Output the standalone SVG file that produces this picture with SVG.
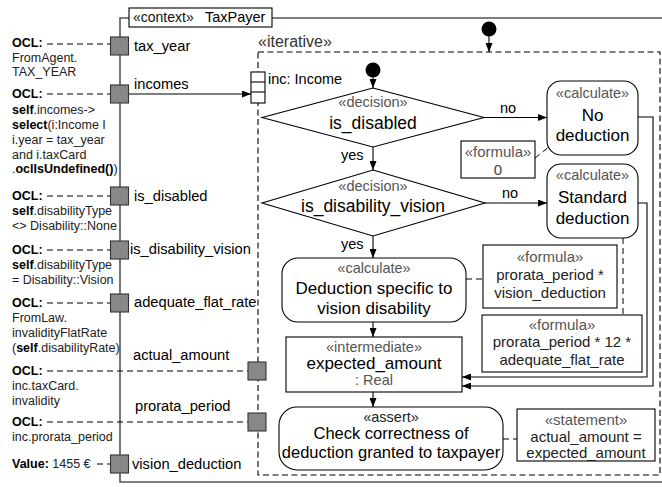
<svg xmlns="http://www.w3.org/2000/svg" width="662" height="487" viewBox="0 0 662 487">
<style>
text{font-family:"Liberation Sans",Arial,Helvetica,sans-serif}
.frame{fill:none;stroke:#555;stroke-width:1.6}
.box{fill:#fff;stroke:#000;stroke-width:1.1}
.port{fill:#888;stroke:#333;stroke-width:1.1}
.line{fill:none;stroke:#000;stroke-width:1.1}
.dash{fill:none;stroke:#000;stroke-width:1;stroke-dasharray:6,4}
.st{font-size:14.5px;fill:#555;text-anchor:middle}
.mt{font-size:17px;fill:#000;text-anchor:middle}
.dt{font-size:17.5px;fill:#000;text-anchor:middle}
.ft{font-size:15px;fill:#222;text-anchor:middle}
.pl{font-size:14.7px;fill:#000}
.ocl{font-size:12.5px;fill:#222}
.b{font-weight:bold;fill:#000}
.lbl{font-size:14.5px;fill:#000}
</style>
<defs>
<marker id="arr" markerUnits="userSpaceOnUse" markerWidth="9" markerHeight="7" refX="9" refY="3.5" orient="auto">
<path d="M0,0 L9,3.5 L0,7 z" fill="#000"/>
</marker>
</defs>

<g id="frame">
<path class="frame" d="M129,18 H120 V482 H662 M272,18 H662"/>
</g>
<g id="context">
<rect class="box" x="129" y="8" width="143" height="19"/>
<text x="133" y="22" style="font-size:14px;fill:#111">«context»</text>
<text x="205" y="22" style="font-size:14.5px;fill:#000">TaxPayer</text>
</g>

<g id="iterative">
<rect x="258" y="52" width="402" height="423" fill="none" stroke="#000" stroke-width="1.1" stroke-dasharray="6,3.5"/>
<text x="258" y="47" style="font-size:16px;fill:#333">«iterative»</text>
</g>

<g id="ocl-notes">
<text class="ocl" x="12" y="47"><tspan class="b">OCL:</tspan></text>
<text class="ocl" x="12" y="62">FromAgent.</text>
<text class="ocl" x="12" y="76">TAX_YEAR</text>

<text class="ocl" x="12" y="98"><tspan class="b">OCL:</tspan></text>
<text class="ocl" x="12" y="114"><tspan class="b">self</tspan>.incomes-&gt;</text>
<text class="ocl" x="12" y="129"><tspan class="b">select</tspan>(i:Income I</text>
<text class="ocl" x="12" y="144">i.year = tax_year</text>
<text class="ocl" x="12" y="159">and i.taxCard</text>
<text class="ocl" x="12" y="173">.<tspan class="b">oclIsUndefined()</tspan>)</text>

<text class="ocl" x="12" y="200"><tspan class="b">OCL:</tspan></text>
<text class="ocl" x="12" y="215"><tspan class="b">self</tspan>.disabilityType</text>
<text class="ocl" x="12" y="230">&lt;&gt; Disability::None</text>

<text class="ocl" x="12" y="254"><tspan class="b">OCL:</tspan></text>
<text class="ocl" x="12" y="269"><tspan class="b">self</tspan>.disabilityType</text>
<text class="ocl" x="12" y="284">= Disability::Vision</text>

<text class="ocl" x="12" y="307"><tspan class="b">OCL:</tspan></text>
<text class="ocl" x="12" y="322">FromLaw.</text>
<text class="ocl" x="12" y="337">invalidityFlatRate</text>
<text class="ocl" x="12" y="352">(<tspan class="b">self</tspan>.disabilityRate)</text>

<text class="ocl" x="12" y="375"><tspan class="b">OCL:</tspan></text>
<text class="ocl" x="12" y="390">inc.taxCard.</text>
<text class="ocl" x="12" y="405">invalidity</text>

<text class="ocl" x="12" y="426"><tspan class="b">OCL:</tspan></text>
<text class="ocl" x="12" y="441">inc.prorata_period</text>

<text class="ocl" x="12" y="468"><tspan class="b">Value:</tspan> 1455 €</text>
</g>

<g id="connectors">
<line class="dash" x1="47" y1="44" x2="110" y2="44"/>
<line class="dash" x1="47" y1="94" x2="110" y2="94"/>
<line class="dash" x1="47" y1="196" x2="110" y2="196"/>
<line class="dash" x1="47" y1="250" x2="110" y2="250"/>
<line class="dash" x1="47" y1="303" x2="110" y2="303"/>
<line class="dash" x1="47" y1="371" x2="248" y2="371"/>
<line class="dash" x1="47" y1="422" x2="248" y2="422"/>
<line class="dash" x1="97" y1="464" x2="110" y2="464" stroke-dasharray="5,3"/>

<line class="line" x1="129" y1="94" x2="251" y2="94" marker-end="url(#arr)"/>
<line class="line" x1="489" y1="36" x2="489" y2="52" marker-end="url(#arr)"/>
<line class="line" x1="373" y1="77" x2="373" y2="88" marker-end="url(#arr)"/>
<line class="line" x1="373" y1="147" x2="373" y2="170" marker-end="url(#arr)"/>
<line class="line" x1="373" y1="236" x2="373" y2="258" marker-end="url(#arr)"/>
<line class="line" x1="373" y1="322" x2="373" y2="337" marker-end="url(#arr)"/>
<line class="line" x1="373" y1="392" x2="373" y2="407" marker-end="url(#arr)"/>
<line class="line" x1="484" y1="117.5" x2="547" y2="117.5" marker-end="url(#arr)"/>
<line class="line" x1="485" y1="203" x2="547" y2="203" marker-end="url(#arr)"/>
<polyline class="line" points="638,117 653,117 653,386 462,386" marker-end="url(#arr)"/>
<polyline class="line" points="638,203 647,203 647,377 462,377" marker-end="url(#arr)"/>

<line class="dash" x1="535" y1="158" x2="550" y2="146" stroke-dasharray="5,3"/>
<line class="dash" x1="623" y1="238" x2="623" y2="315" stroke-dasharray="6,3.5"/>
<line class="dash" x1="466" y1="279" x2="483" y2="279" stroke-dasharray="5,3"/>
<line class="dash" x1="503" y1="439" x2="517" y2="439" stroke-dasharray="5,3"/>

<text class="lbl" x="341" y="160">yes</text>
<text class="lbl" x="341" y="249">yes</text>
<text class="lbl" x="500" y="113">no</text>
<text class="lbl" x="502" y="198">no</text>
</g>

<g id="port-tax_year">
<rect class="port" x="110.5" y="37" width="18" height="18"/>
<text class="pl" x="134" y="51">tax_year</text>
</g>
<g id="port-incomes">
<rect class="port" x="110.5" y="85" width="18" height="18"/>
<text class="pl" x="134" y="89">incomes</text>
</g>
<g id="port-is_disabled">
<rect class="port" x="110.5" y="187" width="18" height="18"/>
<text class="pl" x="134" y="201">is_disabled</text>
</g>
<g id="port-is_disability_vision">
<rect class="port" x="110.5" y="241" width="18" height="18"/>
<text class="pl" x="130" y="254">is_disability_vision</text>
</g>
<g id="port-adequate_flat_rate">
<rect class="port" x="110.5" y="294" width="18" height="18"/>
<text class="pl" x="134" y="307">adequate_flat_rate</text>
</g>
<g id="port-actual_amount">
<rect class="port" x="248" y="362" width="18" height="18"/>
<text class="pl" x="133" y="360">actual_amount</text>
</g>
<g id="port-prorata_period">
<rect class="port" x="248" y="413" width="18" height="18"/>
<text class="pl" x="135" y="411">prorata_period</text>
</g>
<g id="port-vision_deduction">
<rect class="port" x="110.5" y="455" width="18" height="18"/>
<text class="pl" x="132" y="469">vision_deduction</text>
</g>

<g id="pin-inc">
<rect class="box" x="251" y="72" width="14" height="31"/>
<line class="line" x1="251" y1="82" x2="265" y2="82"/>
<line class="line" x1="251" y1="92" x2="265" y2="92"/>
<text x="268" y="84" style="font-size:14.5px;fill:#000">inc: Income</text>
</g>

<g id="initial-top">
<circle cx="489" cy="29" r="7.5" fill="#000"/>
</g>
<g id="initial-inner">
<circle cx="373" cy="70" r="7.5" fill="#000"/>
</g>

<g id="decision-is_disabled">
<polygon class="box" points="373,88 484,117.5 373,147 262,117.5"/>
<text class="st" x="373" y="107">«decision»</text>
<text class="dt" x="373" y="129">is_disabled</text>
</g>
<g id="decision-is_disability_vision">
<polygon class="box" points="373,170 485,203 373,236 262,203"/>
<text class="st" x="373" y="191">«decision»</text>
<text class="dt" x="373" y="212">is_disability_vision</text>
</g>

<g id="calc-no-deduction">
<rect class="box" x="547" y="81" width="91" height="74" rx="14"/>
<text class="st" x="592.5" y="98">«calculate»</text>
<text class="mt" x="592.5" y="121">No</text>
<text class="mt" x="592.5" y="141">deduction</text>
</g>
<g id="formula-0">
<rect class="box" x="461" y="141" width="74" height="37"/>
<text class="st" x="498" y="157" style="font-size:15px">«formula»</text>
<text class="ft" x="498" y="175" style="fill:#444">0</text>
</g>
<g id="calc-standard">
<rect class="box" x="547" y="164" width="91" height="74" rx="14"/>
<text class="st" x="592.5" y="180">«calculate»</text>
<text class="mt" x="592.5" y="203">Standard</text>
<text class="mt" x="592.5" y="224">deduction</text>
</g>
<g id="calc-vision">
<rect class="box" x="282" y="258" width="184" height="64" rx="16"/>
<text class="st" x="374" y="273">«calculate»</text>
<text class="mt" x="374" y="294">Deduction specific to</text>
<text class="mt" x="374" y="314">vision disability</text>
</g>
<g id="formula-vision">
<rect class="box" x="483" y="245" width="134" height="63"/>
<text class="st" x="550" y="262" style="font-size:15px">«formula»</text>
<text class="ft" x="550" y="280">prorata_period *</text>
<text class="ft" x="550" y="298">vision_deduction</text>
</g>
<g id="formula-standard">
<rect class="box" x="482" y="315" width="160" height="57"/>
<text class="st" x="562" y="330" style="font-size:15px">«formula»</text>
<text class="ft" x="562" y="347">prorata_period * 12 *</text>
<text class="ft" x="562" y="365">adequate_flat_rate</text>
</g>
<g id="intermediate">
<rect class="box" x="286" y="337" width="176" height="55"/>
<text class="st" x="374" y="352">«intermediate»</text>
<text class="mt" x="374" y="369">expected_amount</text>
<text class="st" x="374" y="385">: Real</text>
</g>
<g id="assert">
<rect class="box" x="279" y="407" width="224" height="63" rx="18"/>
<text class="st" x="391" y="422" style="fill:#222">«assert»</text>
<text class="mt" x="391" y="439" style="font-size:16.5px">Check correctness of</text>
<text class="mt" x="391" y="458" style="font-size:16.5px">deduction granted to taxpayer</text>
</g>
<g id="statement">
<rect class="box" x="517" y="409" width="138" height="52"/>
<text class="st" x="586" y="425" style="font-size:15px">«statement»</text>
<text class="ft" x="586" y="442">actual_amount =</text>
<text class="ft" x="586" y="458">expected_amount</text>
</g>
</svg>
